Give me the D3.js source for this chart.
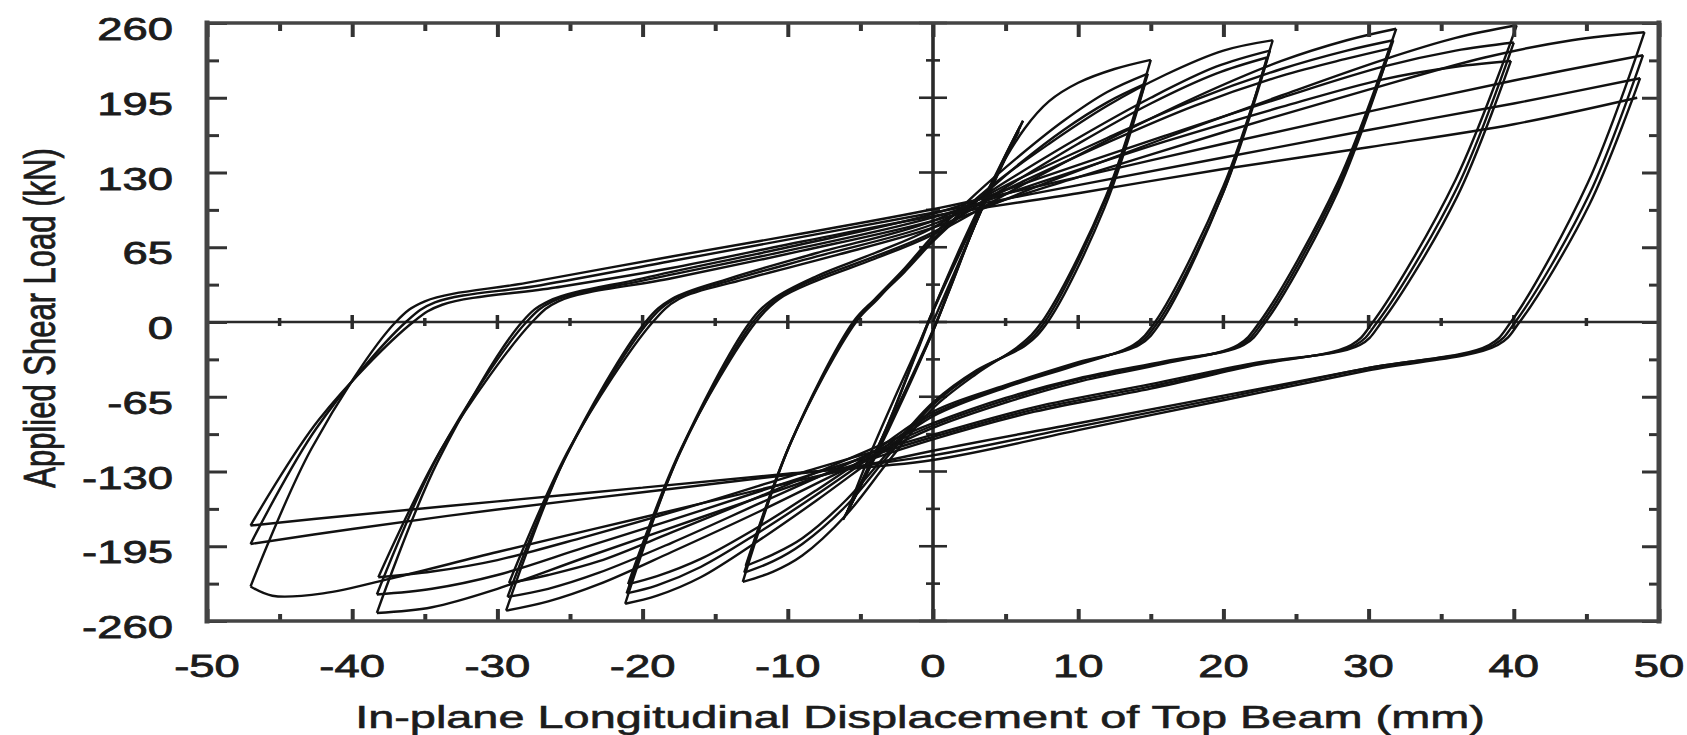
<!DOCTYPE html>
<html>
<head>
<meta charset="utf-8">
<script src="https://cdn.jsdelivr.net/npm/d3@7"></script>
<style>
  body { margin: 0; background: #fff; }
  text { font-family: "Liberation Sans", Arial, Helvetica, sans-serif; fill: #1c1c1c; }
</style>
</head>
<body>
<svg id="chart" width="1687" height="735"></svg>
<script>
// tick values
var xTicks = [-50, -40, -30, -20, -10, 0, 10, 20, 30, 40, 50];
var xMinor = [-45, -35, -25, -15, -5, 5, 15, 25, 35, 45];
var yTicks = [-260, -195, -130, -65, 0, 65, 130, 195, 260];
var yMinor = [-227.5, -162.5, -97.5, -32.5, 32.5, 97.5, 162.5, 227.5];

// hysteresis branches, [displacement mm, load kN], peak to peak
var level1 = [
  [[0,0],[2,58],[4,116],[6.2,175]],
  [[6.2,175],[4.8,140],[3.0,88],[1.2,30],[0,-8],[-2,-65],[-4,-118],[-6.2,-172]],
  [[-6.2,-172],[-4.8,-138],[-3.0,-86],[-1.2,-28],[0,10],[2,66],[4,120],[6.0,170]],
  [[6.0,170],[4.7,136],[2.9,85],[1.1,28],[0,-8],[-2,-63],[-4,-116],[-6.0,-168]],
  [[-6.0,-168],[-4.7,-134],[-2.9,-83],[-1.1,-26],[0,9],[2,64],[4,118],[5.9,166]],
  [[5.9,166],[4.6,132],[2.8,82],[1.1,27],[0,-7],[-2,-62],[-4,-114],[-5.9,-165]]
];
var level2 = [
  [[-5.9,-165],[-4.5,-120],[-2.5,-62],[-1,-20],[0,10],[2,68],[4,120],[6.3,168],[8,192],[10,208],[12.5,220],[15,228]],
  [[15,228],[11.9,109],[7.5,0],[6,-20],[3,-45],[0,-75],[-3,-120],[-6,-168],[-9,-203],[-11,-217],[-13.1,-226]],
  [[-13.1,-226],[-9.9,-108],[-5.5,0],[-4,20],[-2,46],[0,75],[3,112],[6,145],[9,175],[12,200],[14.8,216]],
  [[14.8,216],[11.8,104],[7.7,0],[6.2,-20],[3,-43],[0,-72],[-3,-115],[-6,-160],[-9,-193],[-11,-208],[-13.0,-218]],
  [[-13.0,-218],[-9.8,-105],[-5.4,0],[-3.9,20],[-2,43],[0,70],[3,105],[6,138],[9,167],[12,191],[14.6,207]],
  [[14.6,207],[11.8,99],[7.9,0],[6.4,-20],[3,-42],[0,-70],[-3,-112],[-6,-155],[-9,-188],[-11,-202],[-12.9,-212]]
];
var level3 = [
  [[-12.9,-212],[-9.7,-102],[-5.3,0],[-3.8,20],[-2,45],[0,72],[4,118],[8,155],[12,188],[16,215],[20,236],[23.4,245]],
  [[23.4,245],[20.0,118],[15.3,0],[13.8,-20],[10,-37],[5,-57],[0,-82],[-4,-118],[-8,-155],[-12,-190],[-16,-222],[-19,-238],[-21.2,-245]],
  [[-21.2,-245],[-17.6,-118],[-12.6,0],[-11,20],[-8,40],[-4,60],[0,82],[5,122],[10,160],[15,195],[19.5,222],[23.2,236]],
  [[23.2,236],[20.0,113],[15.5,0],[14,-20],[10,-36],[5,-56],[0,-80],[-4,-115],[-8,-150],[-12,-183],[-16,-213],[-19,-229],[-21.1,-236]],
  [[-21.1,-236],[-17.4,-113],[-12.4,0],[-10.8,20],[-8,38],[-4,57],[0,78],[5,117],[10,155],[15,190],[19.5,216],[23.0,230]],
  [[23.0,230],[19.9,110],[15.7,0],[14.2,-20],[10,-35],[5,-55],[0,-78],[-4,-112],[-8,-146],[-12,-178],[-16,-206],[-19,-221],[-21.0,-228]]
];
var level4 = [
  [[-21.0,-228],[-17.3,-109],[-12.2,0],[-10.6,20],[-8,36],[-4,55],[0,76],[6,118],[12,158],[18,195],[24,227],[28.5,245],[31.9,255]],
  [[31.9,255],[27.9,122],[22.5,0],[21,-20],[16,-36],[10,-52],[5,-70],[0,-92],[-6,-128],[-12,-165],[-18,-200],[-23,-228],[-26.5,-243],[-29.4,-251]],
  [[-29.4,-251],[-25.4,-120],[-19.8,0],[-18,20],[-14,38],[-8,60],[0,88],[6,125],[12,160],[18,193],[24,220],[28.5,236],[31.7,245]],
  [[31.7,245],[27.9,118],[22.7,0],[21.2,-20],[16,-35],[10,-50],[5,-68],[0,-90],[-6,-124],[-12,-158],[-18,-192],[-23,-218],[-26.5,-232],[-29.3,-239]],
  [[-29.3,-239],[-25.2,-115],[-19.6,0],[-17.8,20],[-14,36],[-8,57],[0,85],[6,121],[12,156],[18,188],[24,214],[28.5,229],[31.5,238]],
  [[31.5,238],[27.9,114],[22.9,0],[21.4,-20],[16,-34],[10,-49],[5,-66],[0,-88],[-6,-120],[-12,-152],[-18,-183],[-23,-208],[-26.5,-220],[-29.2,-227]]
];
var level5 = [
  [[-29.2,-227],[-25.0,-109],[-19.3,0],[-17.5,20],[-13,37],[-7,57],[0,82],[8,122],[16,160],[24,197],[31,228],[36,247],[40.2,258]],
  [[40.2,258],[36.0,124],[30.3,0],[28.8,-20],[22,-38],[15,-58],[7,-78],[0,-102],[-8,-135],[-16,-170],[-24,-205],[-30,-232],[-34.5,-248],[-38.3,-253]],
  [[-38.3,-253],[-34.1,-121],[-28.3,0],[-26.5,18],[-20,38],[-10,65],[0,94],[8,128],[16,162],[24,195],[31,222],[36,236],[40.0,243]],
  [[40.0,243],[36.1,117],[30.6,0],[29.1,-20],[22,-37],[15,-56],[7,-76],[0,-100],[-8,-131],[-16,-164],[-24,-196],[-30,-220],[-34.5,-232],[-38.3,-237]],
  [[-38.3,-237],[-34.0,-114],[-28.0,0],[-26.2,18],[-20,36],[-10,62],[0,91],[8,124],[16,157],[24,187],[31,211],[36,222],[39.8,227]],
  [[39.8,227],[36.1,109],[30.9,0],[29.4,-20],[22,-36],[15,-54],[7,-74],[0,-98],[-8,-127],[-16,-158],[-24,-187],[-30,-207],[-34.5,-217],[-38.2,-222]]
];
var level6 = [
  [[-38.2,-222],[-33.7,-107],[-27.6,0],[-25.8,18],[-18,38],[-9,62],[0,88],[10,126],[20,165],[30,202],[38,230],[44,245],[49.0,252]],
  [[49.0,252],[45.1,121],[39.8,0],[38.3,-20],[30,-40],[20,-64],[10,-88],[0,-112],[-10,-140],[-20,-170],[-30,-200],[-37,-222],[-42,-236],[-45.5,-238],[-47.0,-230]],
  [[-47.0,-230],[-42.8,-110],[-37.0,0],[-35,18],[-28,34],[-18,57],[-9,77],[0,98],[10,126],[20,155],[30,183],[40,210],[48.9,232]],
  [[48.9,232],[45.2,111],[40.1,0],[38.6,-20],[30,-40],[20,-66],[10,-91],[0,-116],[-10,-133],[-20,-148],[-30,-163],[-40,-180],[-47.0,-193]],
  [[-47.0,-193],[-42.5,-93],[-36.3,0],[-34.3,17],[-27,32],[-18,53],[-9,74],[0,95],[10,119],[20,143],[30,167],[40,190],[48.7,212]],
  [[48.7,212],[45.2,102],[40.4,0],[38.9,-20],[30,-42],[20,-68],[10,-94],[0,-120],[-10,-132],[-20,-144],[-30,-156],[-40,-168],[-47.0,-177]],
  [[-47.0,-177],[-42.3,-85],[-35.8,0],[-33.8,15],[-26,30],[-18,47],[-9,70],[0,92],[10,112],[20,133],[30,152],[40,172],[48.5,195]]
];

var xTitle = "In-plane Longitudinal Displacement of Top Beam (mm)";
var yTitle = "Applied Shear Load (kN)";

var svg = d3.select("#chart");
var x = d3.scaleLinear().domain([-50, 50]).range([207, 1659]);
var y = d3.scaleLinear().domain([-260, 260]).range([621, 23]);
var stretch = 1.42;   // the original picture is widened

svg.append("rect").attr("width", 1687).attr("height", 735).attr("fill", "#fff");

svg.append("defs").append("clipPath").attr("id", "plotClip")
  .append("rect")
  .attr("x", x(-50)).attr("y", y(260))
  .attr("width", x(50) - x(-50)).attr("height", y(-260) - y(260));

// zero lines with cross ticks
var zero = svg.append("g").attr("stroke", "#2a2a2a");
zero.append("line").attr("x1", x(-50)).attr("x2", x(50)).attr("y1", y(0)).attr("y2", y(0)).attr("stroke-width", 2.6);
zero.append("line").attr("x1", x(0)).attr("x2", x(0)).attr("y1", y(260)).attr("y2", y(-260)).attr("stroke-width", 3.6);
zero.selectAll(".zx").data(xTicks.concat(xMinor)).join("line")
  .attr("x1", d => x(d)).attr("x2", d => x(d))
  .attr("y1", d => y(0) - (d % 10 === 0 ? 7 : 4)).attr("y2", d => y(0) + (d % 10 === 0 ? 7 : 4))
  .attr("stroke-width", 3.5);
zero.selectAll(".zy").data(yTicks.concat(yMinor)).join("line")
  .attr("y1", d => y(d)).attr("y2", d => y(d))
  .attr("x1", d => x(0) - (d % 65 === 0 ? 14 : 7)).attr("x2", d => x(0) + (d % 65 === 0 ? 14 : 7))
  .attr("stroke-width", 2.6);

// curves
var line = d3.line()
  .x(d => x(d[0]))
  .y(d => y(d[1]))
  .curve(d3.curveCatmullRom.alpha(0.5));

var branches = [].concat(level1, level2, level3, level4, level5, level6);
svg.append("g").attr("clip-path", "url(#plotClip)")
  .selectAll("path").data(branches).join("path")
  .attr("d", line)
  .attr("fill", "none")
  .attr("stroke", "#111")
  .attr("stroke-width", 2.4)
  .attr("stroke-linejoin", "round");

// frame ticks (inward)
function ticks(axis, pos, vals, size, width) {
  var g = svg.append("g").attr("transform", pos)
    .call(axis.tickValues(vals).tickSize(-size).tickFormat(""));
  g.select(".domain").remove();
  g.selectAll(".tick line").attr("stroke", "#333").attr("stroke-width", width);
}
ticks(d3.axisLeft(y), "translate(" + x(-50) + ",0)", yTicks, 20, 3);
ticks(d3.axisLeft(y), "translate(" + x(-50) + ",0)", yMinor, 12, 3);
ticks(d3.axisRight(y), "translate(" + x(50) + ",0)", yTicks, 17, 3);
ticks(d3.axisRight(y), "translate(" + x(50) + ",0)", yMinor, 10, 3);
ticks(d3.axisBottom(x), "translate(0," + y(-260) + ")", xTicks, 12, 4);
ticks(d3.axisBottom(x), "translate(0," + y(-260) + ")", xMinor, 7, 4);
ticks(d3.axisTop(x), "translate(0," + y(260) + ")", xTicks, 14, 4);
ticks(d3.axisTop(x), "translate(0," + y(260) + ")", xMinor, 8, 4);

// frame
var frame = svg.append("g").attr("stroke", "#444").attr("stroke-linecap", "square");
frame.append("line").attr("x1", x(-50)).attr("x2", x(-50)).attr("y1", y(260)).attr("y2", y(-260)).attr("stroke-width", 5);
frame.append("line").attr("x1", x(50)).attr("x2", x(50)).attr("y1", y(260)).attr("y2", y(-260)).attr("stroke-width", 5);
frame.append("line").attr("x1", x(-50)).attr("x2", x(50)).attr("y1", y(260)).attr("y2", y(260)).attr("stroke-width", 3.5);
frame.append("line").attr("x1", x(-50)).attr("x2", x(50)).attr("y1", y(-260)).attr("y2", y(-260)).attr("stroke-width", 3.5);

// tick labels
svg.append("g").selectAll("text").data(yTicks).join("text")
  .attr("transform", d => "translate(173," + (y(d) + 17) + ") scale(" + stretch + ",1)")
  .attr("text-anchor", "end")
  .attr("font-size", 32)
  .attr("stroke", "#1c1c1c").attr("stroke-width", 0.8)
  .text(d => String(d));

svg.append("g").selectAll("text").data(xTicks).join("text")
  .attr("transform", d => "translate(" + x(d) + ",677) scale(" + stretch + ",1)")
  .attr("text-anchor", "middle")
  .attr("font-size", 32)
  .attr("stroke", "#1c1c1c").attr("stroke-width", 0.8)
  .text(d => String(d));

// axis titles
var xt = svg.append("text")
  .attr("text-anchor", "middle")
  .attr("font-size", 32)
  .attr("stroke", "#1c1c1c").attr("stroke-width", 0.6)
  .text(xTitle);
var xw = xt.node().getComputedTextLength();
xt.attr("transform", "translate(920,728) scale(" + (1130 / xw) + ",1)");

svg.append("text")
  .attr("transform", "translate(55,318) scale(" + stretch + ",1) rotate(-90)")
  .attr("text-anchor", "middle")
  .attr("font-size", 31)
  .attr("stroke", "#1c1c1c").attr("stroke-width", 0.6)
  .text(yTitle);
</script>
</body>
</html>
